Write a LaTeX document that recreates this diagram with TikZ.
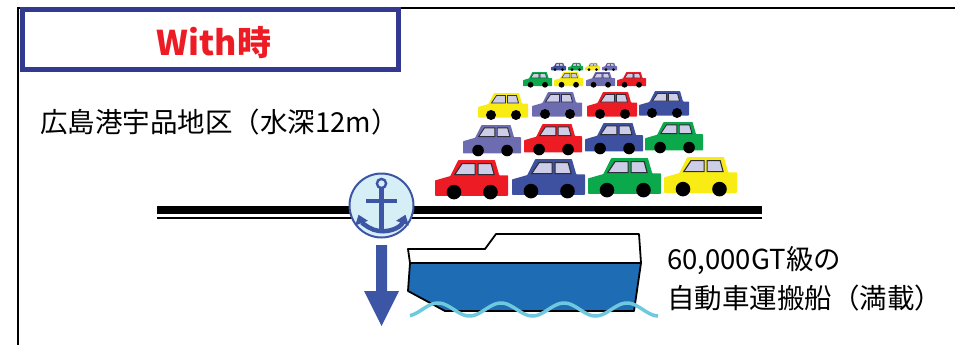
\documentclass[tikz,border=0pt]{standalone}
\usepackage{fontspec}
\setmainfont{Noto Sans CJK JP}
\usetikzlibrary{arrows.meta}

\definecolor{framenavy}{RGB}{51,57,145}
\definecolor{titlered}{RGB}{237,28,36}
\definecolor{anchorblue}{RGB}{60,85,165}
\definecolor{anchorbg}{RGB}{214,238,246}
\definecolor{shipblue}{RGB}{30,108,180}
\definecolor{waveblue}{RGB}{110,200,222}
\definecolor{carred}{RGB}{237,28,36}
\definecolor{carblue}{RGB}{62,80,160}
\definecolor{cargreen}{RGB}{12,168,76}
\definecolor{caryellow}{RGB}{248,236,20}
\definecolor{carpurple}{RGB}{110,108,176}
\definecolor{winfill}{RGB}{205,205,232}
\definecolor{winline}{RGB}{45,45,55}

\tikzset{
  % a small car, 100 units wide, origin at the top-left corner of the roof
  pics/car/.style={code={
    \fill[#1, rounded corners=0.6pt] (0,49) -- (0,28) -- (21,22) -- (32,0) -- (82,0)
      -- (88,21) -- (100,21) -- (100,49) -- cycle;
    \filldraw[fill=winfill, draw=winline] (27,20) -- (37,5) -- (55,5) -- (55,20) -- cycle;
    \filldraw[fill=winfill, draw=winline] (59,5) -- (77,5) -- (81,20) -- (59,20) -- cycle;
    \fill[black] (26,44) circle (10) (76,44) circle (10);
  }},
  label/.style={inner sep=0pt, font=\fontsize{27.5}{30}\selectfont},
  hull/.style={draw=black, line width=1.8pt, line join=round},
}

\begin{document}
\begin{tikzpicture}[x=1pt, y=-1pt]
\useasboundingbox (0,0) rectangle (955,345);

% outer frame
\draw[line width=2.5pt] (18,345) -- (18,8) -- (955,8);

% title box
\node[draw=framenavy, fill=white, line width=5pt, minimum width=375.5pt, minimum height=59pt,
      inner sep=0pt, anchor=north west] (titlebox) at (20,7.5) {};
\node[text=titlered, font=\fontsize{34}{34}\selectfont\bfseries, anchor=base] (title) at (214,56) {With時};

% port name
\node[label, anchor=west] (port) at (40,122.5) {広島港宇品地区（水深12m）};

% quay
\draw[line width=7.5pt] (157,210) -- (762,210);
\draw[line width=2.5pt] (157,218) -- (762,218);

% parked cars, back rows first
\foreach \x/\c in {551/carblue, 568/cargreen, 585/caryellow, 602/carpurple}
  \pic[scale=0.15, line width=0.25pt] at (\x,63) {car=\c};
\foreach \x/\c in {523/cargreen, 554/caryellow, 586/carpurple, 617/carred}
  \pic[scale=0.29, line width=0.45pt] at (\x,72) {car=\c};
\foreach \x/\y/\c in {478/93/caryellow, 532/92/carpurple, 587/92/carred, 639/91/carblue}
  \pic[scale=0.50, line width=0.8pt] at (\x,\y) {car=\c};
\foreach \x/\y/\c in {463/125/carpurple, 524/124/carred, 585/123/carblue, 645/122/cargreen}
  \pic[scale=0.58, line width=0.9pt] at (\x,\y) {car=\c};
\foreach \x/\y/\c in {435/160/carred, 512/159/carblue, 588/158/cargreen, 664/157/caryellow}
  \pic[scale=0.73, line width=1.1pt] at (\x,\y) {car=\c};

% anchor mark
\node[circle, draw=anchorblue, fill=anchorbg, line width=2pt, minimum size=64pt, inner sep=0pt]
  (buoy) at (381.5,205.5) {};
\draw[anchorblue, line width=2.4pt] (381.5,183.5) circle (4.6);
\fill[anchorblue] (379.3,188) rectangle (383.7,231);
\fill[anchorblue] (366,199) rectangle (397,203);
\draw[anchorblue, line width=4.5pt,
      {Triangle[width=13pt,length=9pt]}-{Triangle[width=13pt,length=9pt]}]
  (405.5,214.7) arc[start angle=20, end angle=160, radius=25];

% sinking arrow
\fill[anchorblue] (376,245) -- (387,245) -- (387,291) -- (399,291) -- (381.5,326)
  -- (364,291) -- (376,291) -- cycle;

% car carrier
\filldraw[hull, fill=white] (408,249) -- (485,249) -- (496,234) -- (639,234) -- (641,263)
  -- (410,263) -- cycle;
\filldraw[hull, fill=shipblue] (410,263) -- (641,263) -- (634,311) -- (445,311) -- (408,291) -- cycle;
\draw[waveblue, line width=3.5pt]
  plot[domain=410:658, samples=120, smooth] (\x, {309.5 - 6.5*cos(5.7143*(\x-438))});

% ship caption
\node[label, anchor=west] (cap1) at (667,261) {60,000GT級の};
\node[label, anchor=west] (cap2) at (667,298.5) {自動車運搬船（満載）};
\end{tikzpicture}
\end{document}
